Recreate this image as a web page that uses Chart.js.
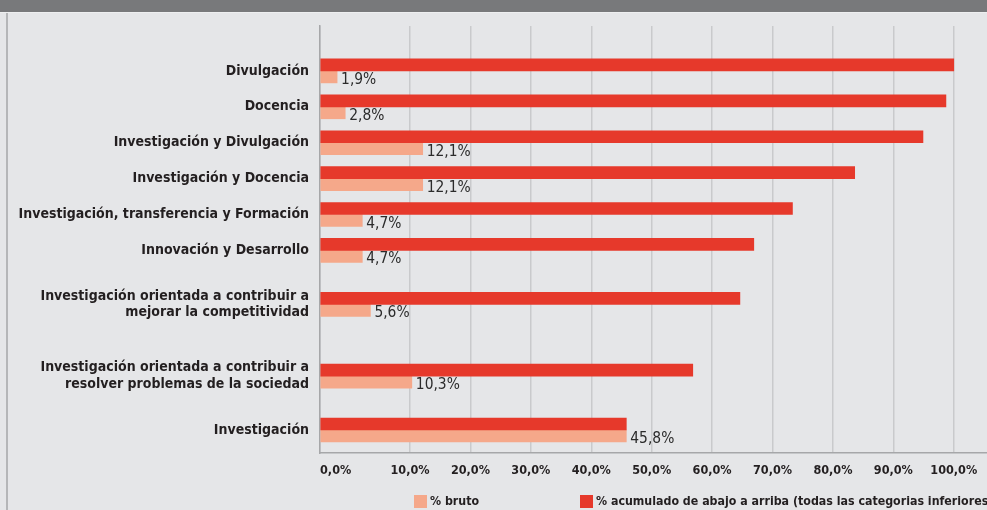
<!DOCTYPE html>
<html lang="es">
<head>
<meta charset="utf-8">
<title>Orientación de la actividad</title>
<script src="https://cdn.jsdelivr.net/npm/chart.js@4.4.1/dist/chart.umd.min.js"></script>
<style>
  html, body { margin: 0; padding: 0; }
  body { width: 987px; height: 510px; overflow: hidden; background: #e5e6e8; position: relative; }
  #header { position: absolute; left: 0; top: 0; width: 987px; height: 12px; background: #78797b; border-bottom: 1px solid #eeeff0; }
  #frame { position: absolute; left: 6px; top: 13px; width: 2px; height: 497px; background: #b5b6b8; }
  #wrap { position: absolute; left: 0; top: 0; width: 987px; height: 510px; }
  #legend { position: absolute; left: 0; top: 495px; width: 987px; height: 15px; }
  .item { position: absolute; top: 0; height: 13px; display: flex; align-items: center; white-space: nowrap; }
  .sw { display: inline-block; width: 13px; height: 13px; margin-right: 3px; flex: none; }
  .tx { font-weight: bold; color: #231f20; line-height: 13px; }
</style>
</head>
<body>
<div id="header"></div>
<div id="frame"></div>
<div id="wrap"><canvas id="chart" width="987" height="510"></canvas></div>
<div id="legend"></div>
<script>
// ---------------- data ----------------
const categories = [
  'Divulgación',
  'Docencia',
  'Investigación y Divulgación',
  'Investigación y Docencia',
  'Investigación, transferencia y Formación',
  'Innovación y Desarrollo',
  ['Investigación orientada a contribuir a', 'mejorar la competitividad'],
  ['Investigación orientada a contribuir a', 'resolver problemas de la sociedad'],
  'Investigación'
];
const pctBruto = [1.9, 2.8, 12.1, 12.1, 4.7, 4.7, 5.6, 10.3, 45.8];
const pctAcumulado = [100, 98.7, 94.9, 83.6, 73.3, 66.9, 64.6, 56.8, 45.8];
const xTickValues = [0, 10, 20, 30, 40, 50, 60, 70, 80, 90, 100];
const seriesNames = ['% acumulado de abajo a arriba (todas las categorias inferiores', '% bruto'];

// ---------------- style ----------------
const RED = '#e6392b';
const PALE = '#f5a88a';
const TEXT = '#231f20';
const GRID = '#c9cacc';
const AXIS = '#a6a7a9';
const FAMILY = '"Liberation Sans Narrow", "Arial Narrow", "DejaVu Sans Condensed", "Roboto Condensed", "Liberation Sans", sans-serif';

const fmt = v => v.toFixed(1).replace('.', ',') + '%';

// fit a font size so that a reference string has the width seen in the picture
const mctx = document.createElement('canvas').getContext('2d');
function fitSize(weight, text, width) {
  mctx.font = weight + ' 100px ' + FAMILY;
  return Math.round(100 * width / mctx.measureText(text).width * 10) / 10;
}
const catSize = fitSize('bold', 'Investigación, transferencia y Formación', 290);
const tickSize = fitSize('bold', '100,0%', 42) * 1.12;
const dataSize = fitSize('normal', '45,8%', 44);
const legendSize = fitSize('bold', '% bruto', 49);

// ---------------- custom scales ----------------
const { LinearScale, CategoryScale } = Chart;

// value axis whose first step (0..stretchBelow) is drawn wider than the rest
class StretchedLinearScale extends LinearScale {
  static id = 'stretchedLinear';
  _t(v) {
    const b = this.options.stretchBelow, k = this.options.stretchFactor;
    return v <= b ? v * k : b * k + (v - b);
  }
  _tinv(t) {
    const b = this.options.stretchBelow, k = this.options.stretchFactor;
    return t <= b * k ? t / k : b + (t - b * k);
  }
  getPixelForValue(value) {
    if (value === null || isNaN(value)) return NaN;
    const t0 = this._t(this.min), t1 = this._t(this.max);
    return this.getPixelForDecimal((this._t(value) - t0) / (t1 - t0));
  }
  getValueForPixel(pixel) {
    const t0 = this._t(this.min), t1 = this._t(this.max);
    return this._tinv(t0 + this.getDecimalForPixel(pixel) * (t1 - t0));
  }
}

// category axis where each row is as tall as its number of label lines
class WeightedCategoryScale extends CategoryScale {
  static id = 'weightedCategory';
  _weights() { return this.getLabels().map(l => Array.isArray(l) ? l.length : 1); }
  _decimal(index) {
    const w = this._weights();
    const ps = this.options.padStart || 0, pe = this.options.padEnd || 0;
    const total = ps + w.reduce((a, b) => a + b, 0) + pe;
    let c = ps;
    for (let i = 0; i < index; i++) c += w[i];
    return (c + w[index] / 2) / total;
  }
  getPixelForValue(value) {
    if (typeof value !== 'number') value = this.parse(value);
    if (value === null || isNaN(value)) return NaN;
    const i = Math.max(0, Math.min(this.getLabels().length - 1, Math.round(value)));
    return this.getPixelForDecimal(this._decimal(i));
  }
  getValueForPixel(pixel) {
    const n = this.getLabels().length;
    let best = 0, bestD = Infinity;
    for (let i = 0; i < n; i++) {
      const d = Math.abs(this.getPixelForValue(i) - pixel);
      if (d < bestD) { bestD = d; best = i; }
    }
    return best;
  }
}
Chart.register(StretchedLinearScale, WeightedCategoryScale);

// ---------------- plugins ----------------
const valueLabels = {
  id: 'valueLabels',
  afterDatasetsDraw(chart, args, opts) {
    const ds = chart.data.datasets[opts.datasetIndex];
    const meta = chart.getDatasetMeta(opts.datasetIndex);
    const ctx = chart.ctx;
    ctx.save();
    ctx.font = 'normal ' + dataSize + 'px ' + FAMILY;
    ctx.fillStyle = opts.color;
    ctx.textAlign = 'left';
    ctx.textBaseline = 'middle';
    meta.data.forEach((bar, i) => {
      ctx.fillText(fmt(ds.data[i]), bar.x + opts.offsetX, bar.y + opts.offsetY);
    });
    ctx.restore();
  }
};

const legendLefts = [414, 580];
const htmlLegend = {
  id: 'htmlLegend',
  afterUpdate(chart) {
    const box = document.getElementById('legend');
    box.innerHTML = '';
    const items = chart.options.plugins.legend.labels.generateLabels(chart).slice().reverse();
    items.forEach((item, i) => {
      const el = document.createElement('div');
      el.className = 'item';
      el.style.left = legendLefts[i] + 'px';
      const sw = document.createElement('span');
      sw.className = 'sw';
      sw.style.background = item.fillStyle;
      const tx = document.createElement('span');
      tx.className = 'tx';
      tx.style.fontFamily = FAMILY;
      tx.style.fontSize = legendSize + 'px';
      tx.textContent = item.text;
      el.appendChild(sw);
      el.appendChild(tx);
      box.appendChild(el);
    });
  }
};

// ---------------- chart ----------------
new Chart(document.getElementById('chart'), {
  type: 'bar',
  data: {
    labels: categories,
    datasets: [
      { label: seriesNames[0], data: pctAcumulado, backgroundColor: RED, barThickness: 12, borderWidth: 0 },
      { label: seriesNames[1], data: pctBruto, backgroundColor: PALE, barThickness: 12, borderWidth: 0 }
    ]
  },
  options: {
    indexAxis: 'y',
    responsive: false,
    animation: false,
    layout: { padding: { top: 26, left: 0, right: 0, bottom: 17 } },
    plugins: {
      legend: { display: false },
      tooltip: { enabled: false },
      valueLabels: { datasetIndex: 1, offsetX: 4, offsetY: 3, color: '#2b2b2b' }
    },
    scales: {
      x: {
        type: 'stretchedLinear',
        position: 'bottom',
        min: 0,
        max: 105.5,
        stretchBelow: 10,
        stretchFactor: 1.49,
        afterBuildTicks: s => {
          s.ticks = xTickValues.map(v => ({ value: v })).concat([{ value: s.max }]);
        },
        ticks: {
          autoSkip: false,
          align: 'inner',
          maxRotation: 0,
          padding: 0,
          color: TEXT,
          font: { family: FAMILY, weight: 'bold', size: tickSize },
          callback: v => xTickValues.includes(v) ? fmt(v) : ''
        },
        grid: {
          color: c => (c.tick && c.tick.value > 100) ? 'rgba(0,0,0,0)' : GRID,
          tickColor: 'rgba(0,0,0,0)',
          lineWidth: 1.5,
          drawTicks: true,
          tickLength: 10
        },
        border: { display: true, color: AXIS, width: 1.5 },
        afterFit: s => { s.height = 40; }
      },
      y: {
        type: 'weightedCategory',
        padStart: 0.75,
        padEnd: 0.14,
        grid: { display: false, drawTicks: false, tickLength: 0 },
        border: { display: true, color: AXIS, width: 1.5 },
        ticks: {
          autoSkip: false,
          padding: 11,
          color: TEXT,
          font: { family: FAMILY, weight: 'bold', size: catSize, lineHeight: 16.7 / catSize }
        },
        afterFit: s => { s.width = 320; }
      }
    }
  },
  plugins: [valueLabels, htmlLegend]
});
</script>
</body>
</html>
